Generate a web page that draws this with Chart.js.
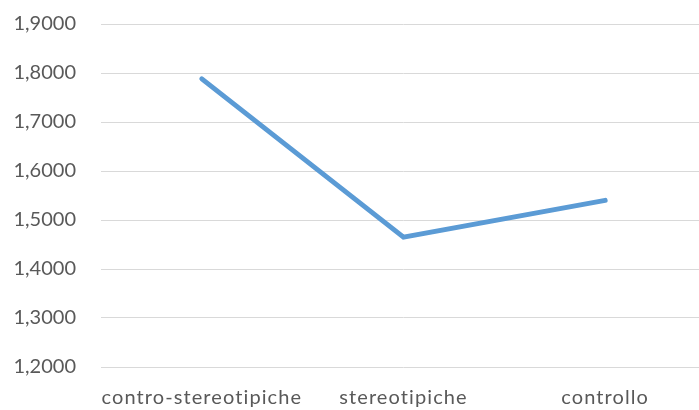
<!DOCTYPE html>
<html>
<head>
<meta charset="utf-8">
<style>
  html, body { margin: 0; padding: 0; background: #fff; overflow: hidden; width: 699px; height: 410px; }
  canvas { display: block; }
</style>
<script src="https://cdn.jsdelivr.net/npm/chart.js@4/dist/chart.umd.min.js"></script>
</head>
<body>
<canvas id="c" width="712" height="410"></canvas>
<script>
const categories = ['contro-stereotipiche', 'stereotipiche', 'controllo'];
const values = [1.788, 1.465, 1.540];
const yTickLabels = ['1,2000', '1,3000', '1,4000', '1,5000', '1,6000', '1,7000', '1,8000', '1,9000'];

const textColor = '#595959';
const font = { family: 'Lato, "Open Sans", sans-serif', size: 20 };

// category labels get open tracking; value labels (drawn after the datasets) do not
const tracking = {
  id: 'tracking',
  beforeLayout: c => { c.ctx.letterSpacing = '1.1px'; },
  beforeDraw: c => { c.ctx.letterSpacing = '1.1px'; },
  afterDatasetsDraw: c => { c.ctx.letterSpacing = '0px'; }
};

new Chart(document.getElementById('c'), {
  type: 'line',
  data: {
    labels: categories,
    datasets: [{
      data: values,
      borderColor: '#5B9BD5',
      borderWidth: 5,
      borderCapStyle: 'round',
      pointRadius: 0,
      pointHoverRadius: 0,
      fill: false,
      tension: 0
    }]
  },
  plugins: [tracking],
  options: {
    responsive: false,
    animation: false,
    layout: { padding: { top: 24, right: 6, left: 0, bottom: 0 } },
    plugins: { legend: { display: false }, tooltip: { enabled: false } },
    scales: {
      x: {
        offset: true,
        grid: { display: false, drawTicks: false, offset: true },
        border: { display: false },
        ticks: { color: textColor, font: font, padding: 19, maxRotation: 0, autoSkip: false },
        afterFit: s => { s.height = 43; }
      },
      y: {
        min: 1.2,
        max: 1.9,
        grid: { color: '#d9d9d9', lineWidth: 1, drawTicks: false },
        border: { display: false },
        ticks: {
          stepSize: 0.1,
          color: textColor,
          font: font,
          padding: 25,
          z: 1,
          callback: (v, i) => yTickLabels[i]
        },
        afterFit: s => { s.width = 101; s.paddingTop = 0; s.paddingBottom = 0; }
      }
    }
  }
});
</script>
</body>
</html>
